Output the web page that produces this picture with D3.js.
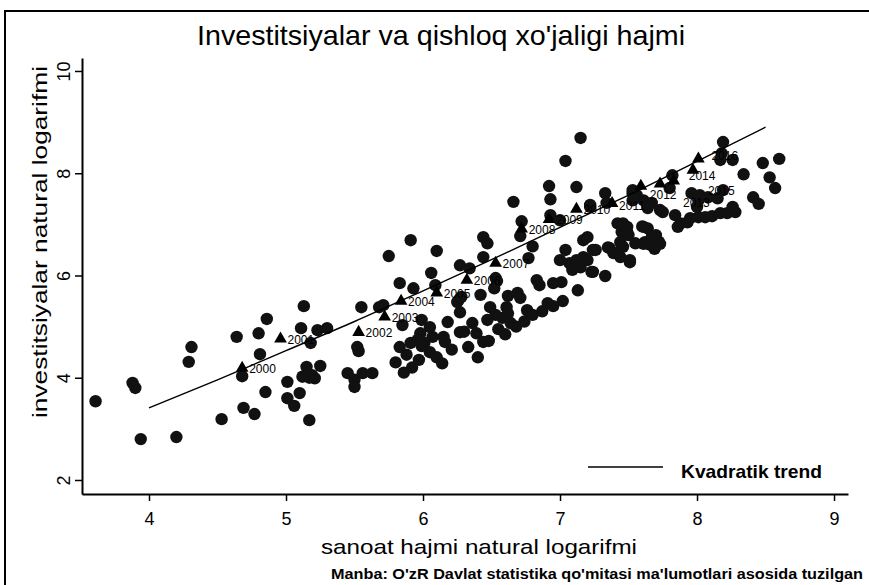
<!DOCTYPE html>
<html>
<head>
<meta charset="utf-8">
<script src="https://cdn.jsdelivr.net/npm/d3@7"></script>
<style>
  html, body { margin: 0; padding: 0; background: #fff; }
  svg { display: block; }
  text { font-family: "Liberation Sans Narrow", "Arial Narrow", "Liberation Sans", Arial, sans-serif; fill: #000; }
</style>
</head>
<body>
<svg id="chart" width="869" height="585"></svg>
<script>
// Regional observations: x = ln(industry volume), y = ln(investment)
const pointX = [3.61,3.88,3.90,3.94,4.20,4.31,4.29,4.53,4.64,4.68,4.69,4.77,4.80,4.81,4.86,4.85,5.01,5.01,5.06,5.10,5.13,5.11,5.17,5.18,5.23,5.30,5.15,5.25,5.12,5.19,5.21,5.17,5.45,5.50,5.50,5.56,5.63,5.53,5.55,5.68,
  7.04,6.92,7.12,6.93,6.66,6.72,6.71,6.93,7.00,7.22,7.33,7.34,6.80,6.44,6.47,6.44,6.77,6.27,6.34,6.53,6.54,6.10,5.91,6.06,5.75,5.83,5.93,6.09,5.71,6.26,6.27,
  5.85,5.99,6.05,5.98,6.07,6.01,5.96,6.18,6.27,6.15,6.25,6.28,5.83,5.91,5.52,
  6.36,6.39,6.44,6.49,6.53,6.47,6.61,6.62,6.58,6.64,6.69,6.76,6.80,6.71,6.83,6.85,6.91,6.95,7.01,7.04,7.00,7.07,7.12,7.09,7.15,7.17,7.26,7.23,7.33,7.13,7.17,
  7.42,7.49,7.45,7.44,7.51,7.42,7.35,7.55,7.61,7.62,7.53,7.61,
  7.15,8.19,8.18,8.17,8.26,8.34,8.48,8.60,8.53,8.57,8.41,8.45,7.82,7.80,7.53,7.56,7.53,7.22,7.20,
  7.46,7.49,7.50,7.60,7.64,7.67,7.70,7.72,7.61,7.66,7.73,7.69,7.67,7.73,7.75,7.64,7.84,7.88,7.86,7.93,
  7.96,8.01,8.02,8.08,8.15,8.19,8.00,7.95,8.01,8.06,8.11,8.17,8.22,8.26,8.28,
  7.24,7.20,7.36,7.39,7.44,7.51,7.46,7.24,
  5.80,5.88,5.92,5.86,5.97,6.05,5.99,6.10,6.16,6.21,6.14,6.33,6.40,6.48,6.30,6.55,6.60,6.68,6.74,6.87,6.95,7.02,6.62,6.52,6.42];
const pointY = [3.54,3.90,3.80,2.80,2.84,4.60,4.31,3.19,4.80,4.03,3.41,3.29,4.87,4.46,5.15,3.72,3.92,3.60,3.45,3.70,5.40,4.97,3.17,4.68,4.93,4.97,4.21,4.23,4.02,4.05,3.99,4.00,4.09,3.96,3.82,4.09,4.09,4.52,5.38,5.38,
  8.24,7.75,7.73,7.49,7.44,7.06,6.77,7.18,7.08,7.34,7.61,7.42,6.57,6.75,6.63,6.36,6.34,6.20,6.14,5.95,5.89,6.48,6.69,6.05,6.38,5.85,5.75,5.81,5.42,5.52,5.28,
  5.03,5.13,4.99,4.87,4.80,4.68,4.74,5.09,4.89,4.80,5.48,5.58,4.60,4.68,4.60,
  5.07,4.87,4.70,5.38,5.23,5.13,5.38,5.26,5.17,5.07,5.66,5.32,5.23,5.56,5.91,5.81,5.46,5.85,5.87,6.50,6.30,6.24,6.30,6.11,6.16,6.69,6.50,6.07,5.99,5.71,6.36,
  7.02,6.95,6.85,6.65,6.30,6.44,6.55,6.63,6.95,6.65,7.61,7.47,
  8.69,8.61,8.39,8.26,8.26,7.98,8.20,8.28,7.92,7.71,7.53,7.40,7.96,7.71,7.67,7.57,7.47,7.38,6.75,
  7.02,6.85,6.79,6.96,6.92,6.76,6.79,6.66,6.62,6.60,6.62,6.52,7.42,7.28,7.24,7.32,7.18,7.02,6.95,7.04,
  7.61,7.47,7.57,7.53,7.51,7.67,7.34,7.12,7.14,7.14,7.16,7.22,7.22,7.34,7.24,
  6.50,6.30,6.54,6.44,6.36,6.26,6.56,6.07,
  4.30,4.45,4.20,4.10,4.35,4.50,4.62,4.40,4.70,4.55,4.28,4.60,4.40,4.72,4.90,4.95,4.85,5.00,5.10,5.30,5.40,5.50,5.60,5.75,5.62];

// National yearly series (triangles)
const years  = [2000,2001,2002,2003,2004,2005,2006,2007,2008,2009,2010,2011,2012,2013,2014,2015,2016];
const yearX  = [4.68,4.96,5.53,5.72,5.84,6.10,6.32,6.53,6.72,6.92,7.12,7.38,7.59,7.73,7.83,7.97,8.01];
const yearY  = [4.21,4.78,4.91,5.21,5.52,5.68,5.93,6.26,6.93,7.12,7.32,7.43,7.77,7.81,7.87,8.08,8.30];

// Quadratic trend, sampled along the fitted curve
const trendX = [4.0,4.5,5.0,5.5,6.0,6.5,7.0,7.5,8.0,8.5];
const trendY = [3.41,3.96,4.53,5.10,5.70,6.31,6.94,7.57,8.23,8.90];

const xTicks = [4,5,6,7,8,9];
const yTicks = [2,4,6,8,10];

const titleText  = "Investitsiyalar va qishloq xo'jaligi hajmi";
const xTitle     = "sanoat hajmi natural logarifmi";
const yTitle     = "investitsiyalar natural logarifmi";
const legendText = "Kvadratik trend";
const sourceText = "Manba: O'zR Davlat statistika qo'mitasi ma'lumotlari asosida tuzilgan";

const svg = d3.select("#chart");

// Outer frame
svg.append("line").attr("x1",4).attr("x2",869).attr("y1",11).attr("y2",11).attr("stroke","#000").attr("stroke-width",2);
svg.append("line").attr("x1",5).attr("x2",5).attr("y1",10).attr("y2",585).attr("stroke","#000").attr("stroke-width",2);

const x = d3.scaleLinear().domain([3.511, 9.102]).range([82, 848]);
const y = d3.scaleLinear().domain([1.726, 10.254]).range([494, 58]);

// Axes
const xAxis = svg.append("g").attr("transform","translate(0,494)")
  .call(d3.axisBottom(x).tickValues(xTicks).tickFormat(d3.format("d")).tickSizeInner(7).tickSizeOuter(0).tickPadding(11));
const yAxis = svg.append("g").attr("transform","translate(82,0)")
  .call(d3.axisLeft(y).tickValues(yTicks).tickFormat(d3.format("d")).tickSizeInner(7).tickSizeOuter(0).tickPadding(4));
[xAxis, yAxis].forEach(g => {
  g.select(".domain").attr("stroke","#000").attr("stroke-width",2);
  g.selectAll(".tick line").attr("stroke","#000").attr("stroke-width",1.5);
});
xAxis.selectAll(".tick text").attr("font-size",18).attr("font-family","Liberation Sans, Arial, sans-serif").attr("fill","#000");
yAxis.selectAll(".tick text")
  .attr("font-size",18).attr("font-family","Liberation Sans, Arial, sans-serif").attr("fill","#000")
  .attr("text-anchor","middle").attr("dy",null).attr("x",null)
  .attr("transform","translate(-12,0) rotate(-90)");

// Scatter of regional observations
const pts = pointX.map((v,i) => [v, pointY[i]]);
svg.append("g").selectAll("circle").data(pts).join("circle")
  .attr("cx", d => x(d[0])).attr("cy", d => y(d[1])).attr("r", 6.2)
  .attr("fill","#111");

// Trend curve
const line = d3.line().x((d,i) => x(trendX[i])).y((d,i) => y(trendY[i])).curve(d3.curveMonotoneX);
svg.append("path").datum(trendX).attr("d", line).attr("fill","none").attr("stroke","#000").attr("stroke-width",1.4);

// Yearly triangles with labels; crowded late years get their labels nudged apart
const labelNudge = {2011:[0,2], 2012:[2,8], 2013:[16,18], 2014:[8,-6], 2015:[8,20], 2016:[6,-4]};
const tri = d3.symbol().type(d3.symbolTriangle).size(70);
const yr = svg.append("g");
years.forEach((yy,i) => {
  yr.append("path").attr("d", tri()).attr("transform",`translate(${x(yearX[i])},${y(yearY[i])+1})`).attr("fill","#000");
  const [dx, dy] = labelNudge[yy] || [0,0];
  yr.append("text").attr("x", x(yearX[i])+7+dx).attr("y", y(yearY[i])+6+dy)
    .attr("font-size",12).attr("font-family","Liberation Sans, Arial, sans-serif").attr("fill","#222").text(yy);
});

// Titles
svg.append("text").attr("x",441).attr("y",45).attr("text-anchor","middle").attr("font-size",28)
  .attr("textLength",488).attr("lengthAdjust","spacingAndGlyphs").text(titleText);
svg.append("text").attr("x",479).attr("y",554).attr("text-anchor","middle").attr("font-size",21)
  .attr("textLength",316).attr("lengthAdjust","spacingAndGlyphs").text(xTitle);
svg.append("text").attr("transform","translate(47,242) rotate(-90)").attr("text-anchor","middle")
  .attr("font-size",20).attr("textLength",352).attr("lengthAdjust","spacingAndGlyphs").text(yTitle);

// Legend
svg.append("line").attr("x1",588).attr("x2",663).attr("y1",467).attr("y2",467).attr("stroke","#000").attr("stroke-width",1.4);
svg.append("text").attr("x",681).attr("y",478).attr("font-size",19).attr("font-weight","bold")
  .attr("textLength",141).attr("lengthAdjust","spacingAndGlyphs").text(legendText);

// Source note
svg.append("text").attr("x",863).attr("y",579).attr("text-anchor","end").attr("font-size",14).attr("font-weight","bold")
  .attr("textLength",532).attr("lengthAdjust","spacingAndGlyphs").text(sourceText);
</script>
</body>
</html>
